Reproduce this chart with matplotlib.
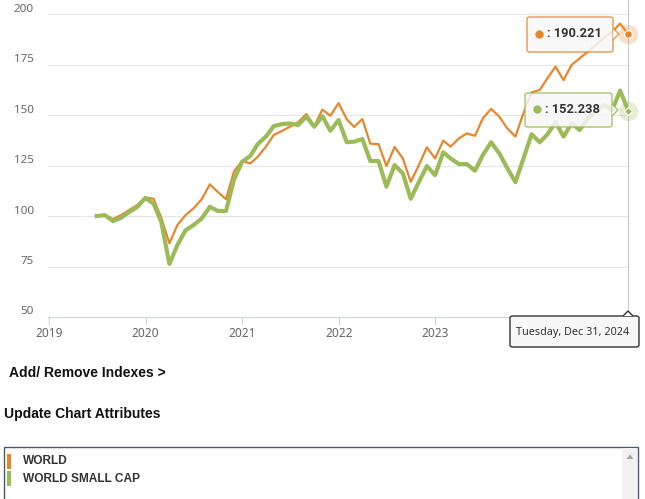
import pandas as pd
import matplotlib
matplotlib.use('Agg')
import matplotlib.pyplot as plt
from matplotlib.patches import FancyBboxPatch, Rectangle, Polygon
from matplotlib.lines import Line2D
from matplotlib.transforms import blended_transform_factory, ScaledTranslation

# month-end index levels
dates = pd.date_range('2019-06-30', '2024-12-31', freq='ME')
world = [100, 100.5, 98.5, 100.5, 103, 105.5, 109.3, 108.6, 99.3, 86.5,
         95.5, 100.5, 103.8, 108.3, 115.7, 112, 108.4, 122, 127.4, 126.1,
         129.4, 134.4, 140.2, 142.2, 144.3, 146.5, 150.6, 144.6, 152.8, 149.7,
         156, 148, 144.2, 148.1, 135.9, 135.7, 124.8, 134.3, 128.6, 117,
         125.3, 134.1, 128.6, 137.4, 134.4, 138.5, 141, 139.8, 148.5, 153.1,
         149.3, 143.5, 139.4, 150.9, 161.3, 162.5, 168.3, 174.1, 167.4, 175,
         178.2, 181.5, 184.8, 188.5, 191.4, 195.4, 190.221]
small_cap = [100, 100.5, 97.5, 99.2, 102, 104.5, 109, 106.2, 97.2, 76.3,
             85.6, 93, 95.5, 98.8, 104.6, 102.6, 102.5, 117.9, 126.9, 129.8,
             135.7, 139.4, 144.6, 145.6, 145.9, 145.1, 149.3, 144.3, 149.5, 142.3,
             147.6, 136.6, 136.9, 138.2, 127.3, 127.3, 114.6, 125.3, 121.2, 108.6,
             117, 124.8, 120.3, 131.6, 128.6, 125.8, 125.8, 122.5, 130.3, 136.6,
             131.1, 123.8, 116.8, 128.4, 140.6, 136.6, 140.5, 146.5, 139.4, 146,
             142.7, 148.5, 152, 155, 152.5, 162.2, 152.238]
series_names = ['WORLD', 'WORLD SMALL CAP']
years = ['2019', '2020', '2021', '2022', '2023', '2024']
y_ticks = [50, 75, 100, 125, 150, 175, 200]
hover_label = 'Tuesday, Dec 31, 2024'

ORANGE = '#E9862B'
GREEN = '#9BBB59'
W, H = 645, 499


def fx(x):
    return x / W


def fy(y):
    return 1 - y / H


fig = plt.figure(figsize=(W / 100, H / 100), dpi=100)
ax = fig.add_axes([fx(47.8), fy(317), (628.3 - 47.8) / W, 317 / H])

ax.plot(dates, world, color=ORANGE, lw=1.6, zorder=3)
ax.plot(dates, small_cap, color=GREEN, lw=3.0, zorder=4)

ax.set_xlim(pd.Timestamp('2018-12-27'), dates[-1])
ax.set_ylim(50, 207.1)
ax.set_yticks(y_ticks)
ax.set_yticklabels([])
ax.set_xticks([pd.Timestamp(y + '-01-01') for y in years])
# the last year label sits under the hover date box, so it is not visible
ax.set_xticklabels(years[:-1] + [''])

for s in ['top', 'right', 'left']:
    ax.spines[s].set_visible(False)
ax.spines['bottom'].set_color('#ccd6eb')
ax.spines['bottom'].set_linewidth(0.8)
ax.spines['bottom'].set_zorder(2)
ax.grid(axis='y', color='#e6e6e6', lw=0.8, zorder=0)
ax.set_axisbelow(True)
ax.tick_params(axis='y', length=0)
ax.tick_params(axis='x', length=5.8, width=0.8, color='#ccd6eb', pad=1.5,
               labelsize=8.6, labelcolor='#666666')
for lab in ax.get_xticklabels():
    lab.set_fontfamily('Noto Sans')

# y labels sit a little above their grid lines
ytrans = blended_transform_factory(ax.transAxes, ax.transData) + \
    ScaledTranslation(-0.14, 0.05, fig.dpi_scale_trans)
for v in y_ticks:
    ax.text(0, v, str(v), transform=ytrans, ha='right', va='center',
            fontsize=8.4, color='#666666', family='Noto Sans')

# hover crosshair and highlighted end points
ax.axvline(dates[-1], color='#cccccc', lw=0.8, clip_on=False, zorder=1)
ax.plot(dates[-1], world[-1], 'o', ms=14, color=ORANGE, alpha=0.25, mew=0, clip_on=False, zorder=6)
ax.plot(dates[-1], world[-1], 'o', ms=5.5, color=ORANGE, mec='white', mew=0.8, clip_on=False, zorder=7)
ax.plot(dates[-1], small_cap[-1], 'o', ms=14, color=GREEN, alpha=0.25, mew=0, clip_on=False, zorder=6)
ax.plot(dates[-1], small_cap[-1], 'D', ms=4.5, color=GREEN, mec='white', mew=0.8, clip_on=False, zorder=7)


def tooltip(x0, y0, x1, y1, edge, tip, face='#f7f7f7', alpha=0.85):
    box = FancyBboxPatch((fx(x0), fy(y1)), fx(x1) - fx(x0), fy(y0) - fy(y1),
                         boxstyle='round,pad=0,rounding_size=0.004',
                         transform=fig.transFigure, fc=face, ec=edge, lw=1,
                         alpha=alpha, zorder=10)
    fig.add_artist(box)
    ptr = Polygon([(fx(px), fy(py)) for px, py in tip], closed=False,
                  transform=fig.transFigure, fc=face, ec=edge, lw=1,
                  alpha=alpha, zorder=11)
    fig.add_artist(ptr)


def tooltip_value(x, y, color, text):
    fig.add_artist(Line2D([fx(x)], [fy(y)], marker='o', ms=5, color=color,
                          transform=fig.transFigure, zorder=12))
    fig.text(fx(x + 8.5), fy(y), text, ha='left', va='center', fontsize=9.3,
             fontweight='bold', color='#333333', family='Roboto', zorder=12)


tooltip(527, 17, 613, 52, ORANGE, [(613, 28), (619, 34), (613, 40)])
tooltip_value(538.5, 33.5, ORANGE, ': ' + f'{world[-1]:.3f}')
tooltip(525, 93, 612, 127, GREEN, [(612, 104), (618, 110), (612, 116)])
tooltip_value(536.7, 109.5, GREEN, ': ' + f'{small_cap[-1]:.3f}')

tooltip(510, 316, 639, 347, '#333333', [(623, 316), (628, 311), (633, 316)],
        alpha=1.0)
fig.text(fx(573), fy(332), hover_label, ha='center', va='center', fontsize=7.8,
         color='#333333', family='Noto Sans', zorder=12)

# page controls under the chart
fig.text(fx(9), fy(373), 'Add/ Remove Indexes >', ha='left', va='center',
         fontsize=10, fontweight='bold', color='#111111', family='Liberation Sans')
fig.text(fx(4), fy(414), 'Update Chart Attributes', ha='left', va='center',
         fontsize=10, fontweight='bold', color='#111111', family='Liberation Sans')

fig.add_artist(Rectangle((fx(4), fy(510)), fx(638) - fx(4), fy(447.5) - fy(510),
                         transform=fig.transFigure, fc='white', ec='#3e5f6b', lw=1))
fig.add_artist(Rectangle((fx(622), fy(499)), fx(637) - fx(622), fy(448) - fy(499),
                         transform=fig.transFigure, fc='#f1f1f1', ec='none'))
fig.add_artist(Polygon([(fx(626.5), fy(459)), (fx(630), fy(454.5)), (fx(633.5), fy(459))],
                       transform=fig.transFigure, fc='#a3a3a3', ec='none'))

for k, (name, col) in enumerate(zip(series_names, [ORANGE, GREEN])):
    yc = 461 + k * 17.5
    fig.add_artist(Rectangle((fx(7), fy(yc + 7.5)), fx(11) - fx(7), fy(yc - 7.5) - fy(yc + 7.5),
                             transform=fig.transFigure, fc=col, ec='none'))
    fig.text(fx(23), fy(yc), name, ha='left', va='center', fontsize=8.6,
             fontweight='bold', color='#333333', family='Liberation Sans')

fig.savefig('out.png', dpi=100)
